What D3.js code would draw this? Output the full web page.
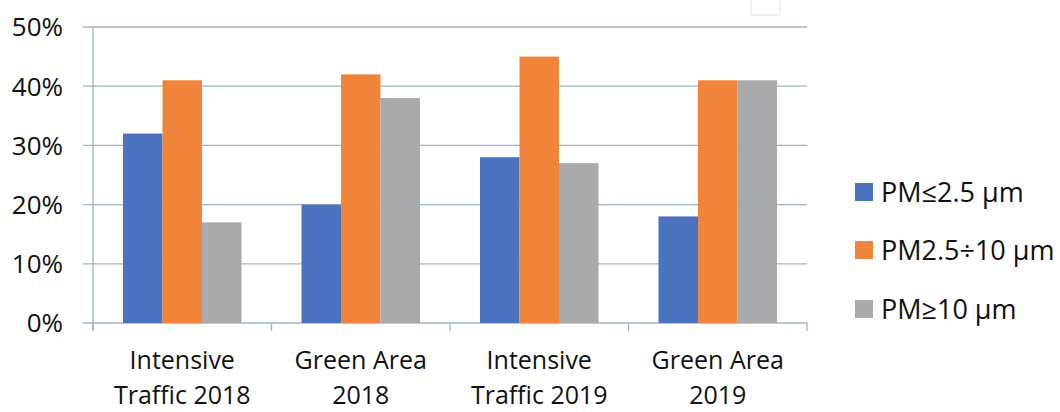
<!DOCTYPE html>
<html>
<head>
<meta charset="utf-8">
<script src="https://cdn.jsdelivr.net/npm/d3@7"></script>
<style>
  html, body { margin: 0; padding: 0; background: #fff; }
  svg { display: block; font-family: "Open Sans", "Liberation Sans", sans-serif; }
</style>
</head>
<body>
<svg id="chart" width="1060" height="412"></svg>
<script>
// Particulate matter size fractions by site and year (share of total)
const categories = [["Intensive", "Traffic 2018"], ["Green Area", "2018"], ["Intensive", "Traffic 2019"], ["Green Area", "2019"]];
const seriesNames = ["PM\u22642.5 \u00b5m", "PM2.5\u00f710 \u00b5m", "PM\u226510 \u00b5m"];
const pmFine = [32, 20, 28, 18];
const pmCoarse = [41, 42, 45, 41];
const pmLarge = [17, 38, 27, 41];
const yTicks = [0, 10, 20, 30, 40, 50];
const colors = ["#4a72be", "#f0843a", "#a9aaad"];

const series = [pmFine, pmCoarse, pmLarge];
const svg = d3.select("#chart");

const plotLeft = 93, plotRight = 807, plotTop = 27, plotBottom = 323;
const gridColor = "#9fb4c4";

const x0 = d3.scaleBand().domain(d3.range(categories.length)).range([plotLeft, plotRight]).paddingInner(0.336).paddingOuter(0.168);
const x1 = d3.scaleBand().domain(d3.range(series.length)).range([0, x0.bandwidth()]);
const y = d3.scaleLinear().domain([0, 50]).range([plotBottom, plotTop]);

// horizontal gridlines with short outward ticks
svg.append("g").selectAll("line").data(yTicks).join("line")
  .attr("x1", plotLeft - 10).attr("x2", plotRight)
  .attr("y1", d => y(d)).attr("y2", d => y(d))
  .attr("stroke", gridColor).attr("stroke-width", 1.3);

// y tick labels
svg.append("g").selectAll("text").data(yTicks).join("text")
  .attr("x", 63).attr("y", d => y(d)).attr("dy", "0.36em")
  .attr("text-anchor", "end").attr("font-size", 26).attr("fill", "#111")
  .text(d => d + "%");

// bars
const groups = svg.append("g").selectAll("g").data(categories.map((c, i) => i)).join("g")
  .attr("transform", i => `translate(${x0(i)},0)`);
groups.selectAll("rect").data(i => series.map((s, k) => ({k, v: s[i]}))).join("rect")
  .attr("x", d => x1(d.k)).attr("width", x1.bandwidth())
  .attr("y", d => y(d.v)).attr("height", d => y(0) - y(d.v))
  .attr("fill", d => colors[d.k]);

// y axis line
svg.append("line").attr("x1", plotLeft).attr("x2", plotLeft).attr("y1", plotTop).attr("y2", plotBottom + 8)
  .attr("stroke", gridColor).attr("stroke-width", 1.3);

// category separator ticks on the x axis
const step = (plotRight - plotLeft) / categories.length;
svg.append("g").selectAll("line").data(d3.range(categories.length + 1)).join("line")
  .attr("x1", i => plotLeft + i * step).attr("x2", i => plotLeft + i * step)
  .attr("y1", plotBottom).attr("y2", plotBottom + 8)
  .attr("stroke", gridColor).attr("stroke-width", 1.3);

// category labels (two lines)
const catText = svg.append("g").selectAll("text").data(categories).join("text")
  .attr("x", (d, i) => x0(i) + x0.bandwidth() / 2)
  .attr("text-anchor", "middle").attr("font-size", 25).attr("fill", "#111");
catText.append("tspan").attr("x", (d, i) => x0(i) + x0.bandwidth() / 2).attr("y", 369).text(d => d[0]);
catText.append("tspan").attr("x", (d, i) => x0(i) + x0.bandwidth() / 2).attr("y", 404).text(d => d[1]);

// legend
const legendY = [192, 250, 309];
const legend = svg.append("g").selectAll("g").data(seriesNames).join("g")
  .attr("transform", (d, i) => `translate(855,${legendY[i]})`);
legend.append("rect").attr("x", 0).attr("y", -9).attr("width", 18).attr("height", 18)
  .attr("fill", (d, i) => colors[i]);
legend.append("text").attr("x", 26).attr("y", 0).attr("dy", "0.36em")
  .attr("font-size", 27).attr("fill", "#111").text(d => d);

// small empty box at top
svg.append("rect").attr("x", 751).attr("y", -2).attr("width", 29).attr("height", 17)
  .attr("fill", "#fff").attr("stroke", "#e4e4e4").attr("stroke-width", 1.2);
</script>
</body>
</html>
